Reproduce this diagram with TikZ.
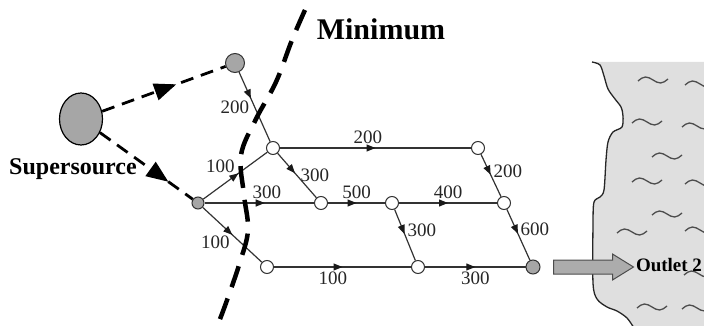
\documentclass[tikz,border=0pt]{standalone}
\usepackage{fontspec}
\setmainfont{Liberation Serif}
\usetikzlibrary{shapes.geometric, arrows.meta, decorations.markings, positioning}

\begin{document}
\begin{tikzpicture}[
    x=1pt, y=-1pt,
    junction/.style={circle, draw=black!80, fill=white, line width=1pt, minimum size=13pt, inner sep=0pt},
    feeder/.style={junction, fill=gray!70, draw=black!80},
    flow/.style={draw=black!80, line width=1.2pt, postaction={decorate},
        decoration={markings, mark=at position #1 with {\arrow[black!90]{Triangle[length=9pt, width=7pt]}}}},
    flow/.default=0.55,
    supply/.style={draw=black, line width=2.8pt, dash pattern=on 13pt off 8pt, postaction={decorate},
        decoration={markings, mark=at position #1 with {\arrow{Triangle[length=22pt, width=17pt]}}}},
    wlabel/.style={font=\fontsize{19}{19}\selectfont, text=black!85, inner sep=2pt},
    cutline/.style={draw=black, line width=4.5pt, dash pattern=on 22pt off 12pt},
    wave/.style={draw=black!70, line width=1.3pt}
]
    \useasboundingbox (0,0) rectangle (704,326);

    % water body at the outlet
    \begin{scope}
        \clip (0,0) rectangle (704,326);
        \fill[gray!25] (704,62) -- plot[smooth, tension=0.5] coordinates {(592,62) (600,65) (604,76) (608,89) (615,99) (621,107) (623,116) (622,127) (613,132) (608,142) (606,160) (604,190) (600,197) (594,202) (593,223) (593,283) (597,299) (607,307) (617,311) (627,318) (634,328)} -- (704,328) -- cycle;
        \draw[black!85, line width=1.3pt] plot[smooth, tension=0.5] coordinates {(592,62) (600,65) (604,76) (608,89) (615,99) (621,107) (623,116) (622,127) (613,132) (608,142) (606,160) (604,190) (600,197) (594,202) (593,223) (593,283) (597,299) (607,307) (617,311) (627,318) (634,328)};
        \foreach \wx/\wy in {653/80, 700/84, 647/122, 697/126, 667/156, 647/181, 700/183, 667/214, 632/232, 700/230, 699/274, 652/307, 697/308}
            \draw[wave] (\wx-15,\wy+1) sin (\wx-7.5,\wy-3) cos (\wx,\wy) sin (\wx+7.5,\wy+3) cos (\wx+15,\wy-1);
    \end{scope}

    % nodes
    \node[ellipse, draw=black, fill=gray!70, line width=1.2pt, minimum width=43pt, minimum height=52pt, inner sep=0pt] (super) at (81,119) {};
    \node[font=\bfseries\fontsize{24}{24}\selectfont, inner sep=0pt] (superlabel) at (73,169) {Supersource};
    \node[ellipse, feeder, minimum width=15pt, minimum height=19pt] (top) at (235,63) {};
    \node[feeder, minimum size=12pt] (src) at (198,203) {};
    \node[junction] (a) at (273,148) {};
    \node[junction] (b) at (321,203) {};
    \node[junction] (c) at (267,267) {};
    \node[junction] (d) at (478,148) {};
    \node[junction] (e) at (392,203) {};
    \node[junction] (f) at (504,203) {};
    \node[junction] (g) at (418,267) {};
    \node[feeder, minimum size=14pt] (sink) at (533,267) {};

    % supersource links
    \draw[supply=0.6] (super) -- (top);
    \draw[supply=0.74] (super) -- (src);

    % pipe network
    \draw[flow=0.38] (top) -- node[wlabel, left=3pt] (lta) {200} (a);
    \draw[flow=0.55] (src) -- node[wlabel, above left=0pt and -2pt] (lsa) {100} (a);
    \draw[flow=0.55] (src) -- node[wlabel, above=2pt, pos=0.57] (lsb) {300} (b);
    \draw[flow=0.5] (src) -- node[wlabel, below left=-2pt and 0pt] (lsc) {100} (c);
    \draw[flow=0.45] (a) -- node[wlabel, right=1pt] (lab) {300} (b);
    \draw[flow=0.5] (a) -- node[wlabel, above=2pt, pos=0.46] (lad) {200} (d);
    \draw[flow=0.5] (b) -- node[wlabel, above=2pt, pos=0.5] (lbe) {500} (e);
    \draw[flow=0.5] (e) -- node[wlabel, above=2pt] (lef) {400} (f);
    \draw[flow=0.48] (d) -- node[wlabel, right=2pt, pos=0.4] (ldf) {200} (f);
    \draw[flow=0.48] (e) -- node[wlabel, right=2pt, pos=0.4] (leg) {300} (g);
    \draw[flow=0.48] (f) -- node[wlabel, right=2pt, pos=0.4] (lfh) {600} (sink);
    \draw[flow=0.5] (c) -- node[wlabel, below=2pt, pos=0.43] (lcg) {100} (g);
    \draw[flow=0.5] (g) -- node[wlabel, below=2pt, pos=0.5] (lgh) {300} (sink);

    % outlet
    \node[font=\bfseries\fontsize{19}{19}\selectfont, inner sep=0pt] (outlet) at (669,265) {Outlet 2};
    \coordinate (outtail) at ([xshift=13pt]sink.east);
    \draw[draw=black!70, fill=gray!65, line width=1pt] (outtail) ++(0,-7) -- ++(59,0) -- ++(0,-6) -- ++(21,13) -- ++(-21,13) -- ++(0,-6) -- ++(-59,0) -- cycle;

    % minimum cut
    \draw[cutline] plot[smooth, tension=0.6] coordinates {(305,10) (292,40) (276,82) (256,119) (241,155) (244,195) (248,230) (240,262) (226,303) (215,332)};
    \node[font=\bfseries\fontsize{30}{30}\selectfont, inner sep=0pt] (mincut) at (381,29) {Minimum};
\end{tikzpicture}
\end{document}
